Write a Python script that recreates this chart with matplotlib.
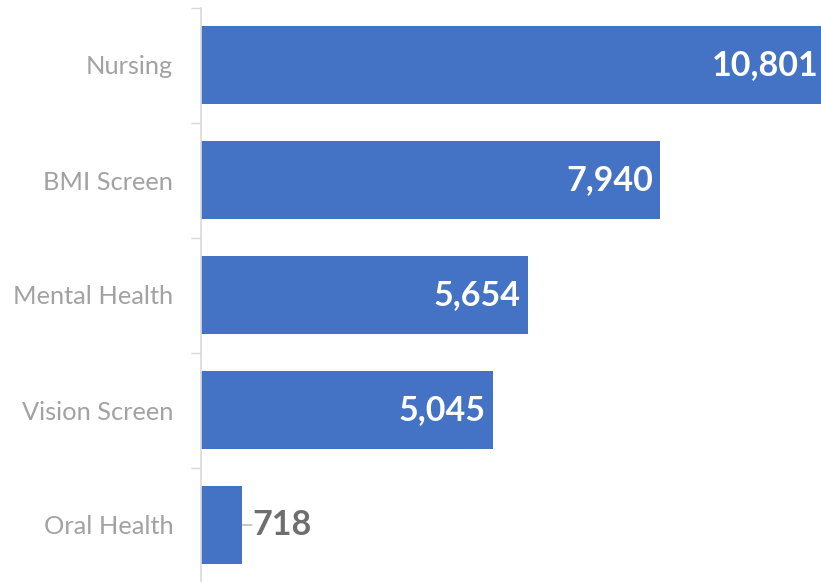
import matplotlib.pyplot as plt
from matplotlib.ticker import FixedLocator

categories = ["Nursing", "BMI Screen", "Mental Health", "Vision Screen", "Oral Health"]
values = [10801, 7940, 5654, 5045, 718]

bar_color = "#4472C4"
label_color = "#a2a2a2"
line_color = "#d9d9d9"

plt.rcParams['font.family'] = ['Lato', 'DejaVu Sans']

fig = plt.figure(figsize=(8.21, 5.82), dpi=100)
ax = fig.add_axes([201 / 821, -0.5 / 582, 1 - 201 / 821, 575 / 582])

y = list(range(len(categories)))
ax.barh(y, values, height=0.68, color=bar_color)

ax.set_ylim(len(categories) - 0.5, -0.5)
ax.set_xlim(0, 10727)

ax.set_yticks(y)
ax.set_yticklabels(categories, fontsize=18.3, color=label_color)
ax.yaxis.set_minor_locator(FixedLocator([i - 0.5 for i in range(len(categories) + 1)]))
ax.tick_params(axis='y', which='major', length=0, pad=20)
ax.tick_params(axis='y', which='minor', length=7, width=1, color=line_color)
ax.set_xticks([])

for s in ["top", "right", "bottom"]:
    ax.spines[s].set_visible(False)
ax.spines["left"].set_color(line_color)
ax.spines["left"].set_linewidth(1.2)

for yi, v in zip(y, values):
    text = f"{v:,}"
    if v > 2000:
        ax.annotate(text, (v, yi), xytext=(-5, 0), textcoords="offset points",
                    ha="right", va="center", fontsize=24.5, fontweight="bold",
                    color="white", annotation_clip=False)
    else:
        ax.annotate("", (v, yi), xytext=(v + 160, yi),
                    arrowprops=dict(arrowstyle="-", color="#b0b0b0", lw=1,
                                    shrinkA=0, shrinkB=0))
        ax.annotate(text, (v, yi), xytext=(7, 0), textcoords="offset points",
                    ha="left", va="center", fontsize=24.5, fontweight="bold",
                    color="#6e6e6e", annotation_clip=False)

fig.savefig("out.png", dpi=100)
